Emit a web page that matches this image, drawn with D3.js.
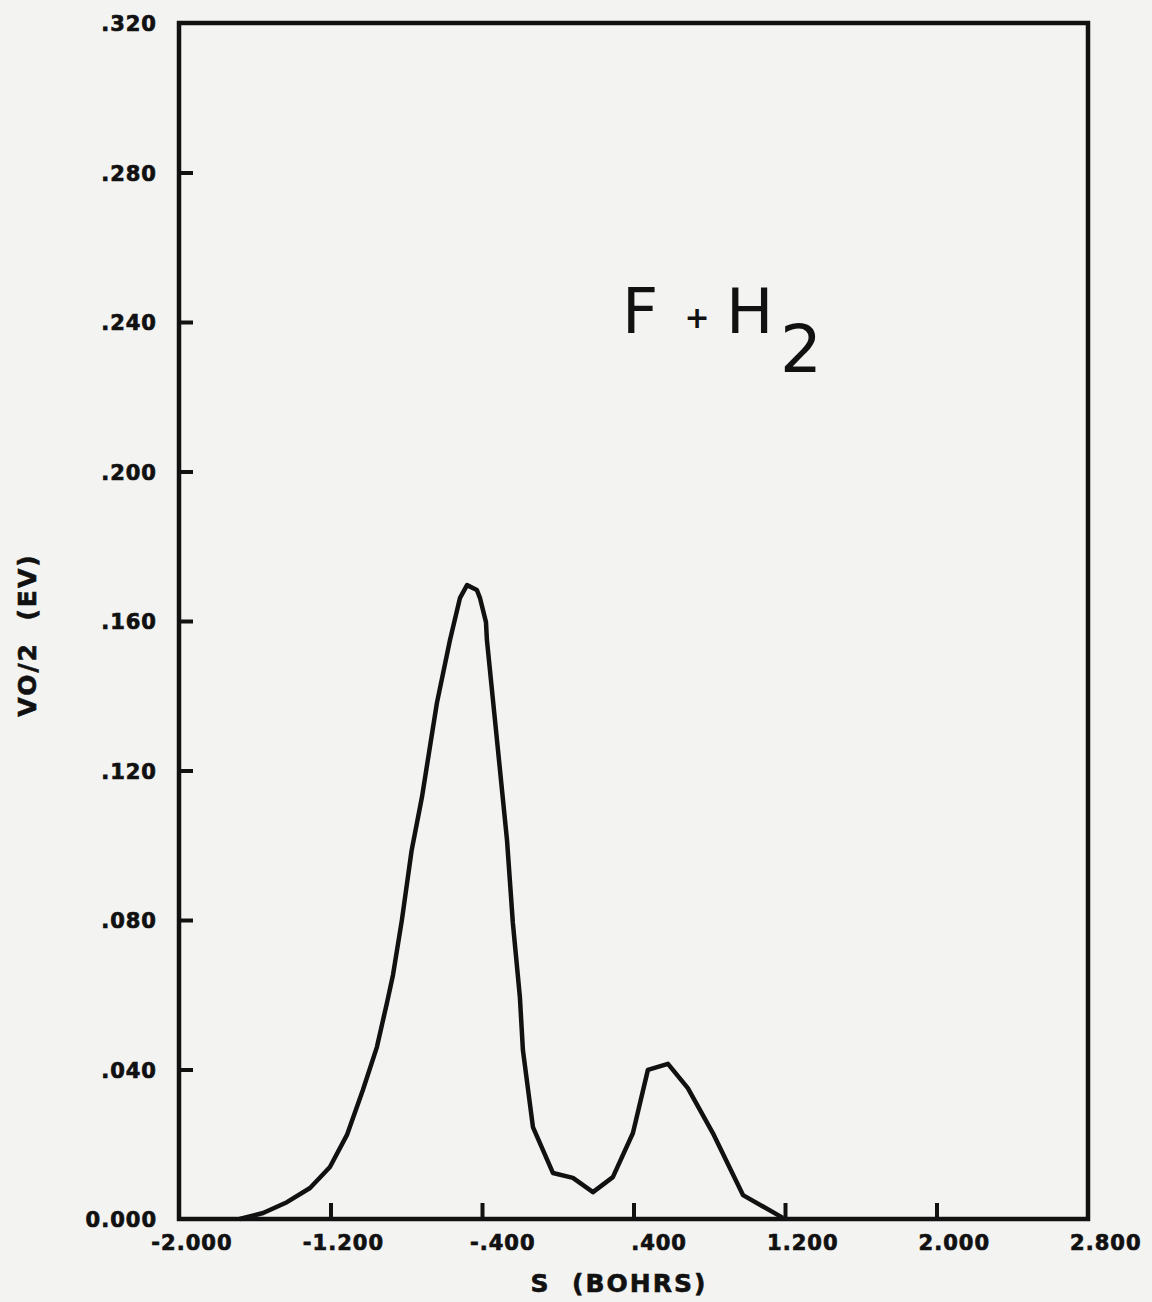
<!DOCTYPE html>
<html>
<head>
<meta charset="utf-8">
<script src="https://cdn.jsdelivr.net/npm/d3@7"></script>
<style>
  body { margin: 0; background: #f3f3f1; }
  svg { display: block; }
  .tick text { font-family: "DejaVu Sans", sans-serif; font-weight: bold; font-size: 21px; fill: #111; stroke: #111; stroke-width: 0.7px; letter-spacing: 1px; }
  .tick line { stroke: #111; stroke-width: 4px; }
  .lbl { font-family: "DejaVu Sans", sans-serif; font-weight: bold; font-size: 25px; fill: #111; stroke: #111; stroke-width: 0.6px; letter-spacing: 2px; white-space: pre; }
</style>
</head>
<body>
<script>
// curve: s (bohrs) vs V0/2 (eV)
var sVals = [-1.68, -1.556, -1.43, -1.308, -1.203, -1.113, -1.029, -0.955, -0.902, -0.870,
             -0.823, -0.772, -0.717, -0.675, -0.638, -0.569, -0.516, -0.479, -0.427, -0.411,
             -0.379, -0.374, -0.321, -0.268, -0.237, -0.200, -0.184, -0.131, -0.025, 0.080,
             0.186, 0.291, 0.397, 0.476, 0.582, 0.687, 0.819, 0.978, 1.189];
var vVals = [0.000, 0.0016, 0.0045, 0.0083, 0.0139, 0.0225, 0.0345, 0.0460, 0.0578, 0.0653,
             0.0800, 0.0985, 0.1129, 0.1263, 0.1381, 0.1549, 0.1662, 0.1696, 0.1683, 0.1662,
             0.1597, 0.1549, 0.1282, 0.1014, 0.0792, 0.0594, 0.0452, 0.0246, 0.0123, 0.0110,
             0.0072, 0.0112, 0.0230, 0.0399, 0.0415, 0.0350, 0.0230, 0.0064, 0.0003];

var xTicks = [-2.0, -1.2, -0.4, 0.4, 1.2, 2.0, 2.8];
var xTickLabels = ["-2.000", "-1.200", "-.400", ".400", "1.200", "2.000", "2.800"];
var yTicks = [0, 0.04, 0.08, 0.12, 0.16, 0.20, 0.24, 0.28, 0.32];
var yTickLabels = ["0.000", ".040", ".080", ".120", ".160", ".200", ".240", ".280", ".320"];

var W = 1152, H = 1302;
var m = {left: 179, top: 23, right: 64, bottom: 83};
var pw = W - m.left - m.right, ph = H - m.top - m.bottom;

var svg = d3.select("body").append("svg").attr("width", W).attr("height", H);
var g = svg.append("g").attr("transform", "translate(" + m.left + "," + m.top + ")");

var x = d3.scaleLinear().domain([-2.0, 2.8]).range([0, pw]);
var y = d3.scaleLinear().domain([0, 0.32]).range([ph, 0]);

var xAxis = g.append("g").attr("transform", "translate(0," + ph + ")")
  .call(d3.axisBottom(x).tickValues(xTicks).tickSize(-16).tickPadding(0)
    .tickFormat(function(d, i){ return xTickLabels[i]; }));
xAxis.select(".domain").remove();
xAxis.selectAll(".tick text").attr("text-anchor", "end").attr("x", 53).attr("y", 31).attr("dy", 0);
xAxis.selectAll(".tick line").filter(function(d){ return d == -2.0 || d == 2.8; }).remove();

var yAxis = g.append("g")
  .call(d3.axisLeft(y).tickValues(yTicks).tickSize(-14).tickPadding(0)
    .tickFormat(function(d, i){ return yTickLabels[i]; }));
yAxis.select(".domain").remove();
yAxis.selectAll(".tick text").attr("x", -22).attr("dy", "0.36em");
yAxis.selectAll(".tick line").filter(function(d){ return d == 0 || d == 0.32; }).remove();

// frame
g.append("rect").attr("x", 0).attr("y", 0).attr("width", pw).attr("height", ph)
  .attr("fill", "none").attr("stroke", "#111").attr("stroke-width", 4.5);

var pts = sVals.map(function(s, i){ return [s, vVals[i]]; });
var line = d3.line().x(function(d){ return x(d[0]); }).y(function(d){ return y(d[1]); });
g.append("path").datum(pts).attr("d", line)
  .attr("fill", "none").attr("stroke", "#111").attr("stroke-width", 4.5)
  .attr("stroke-linejoin", "round");

// axis titles
svg.append("text").attr("class", "lbl").attr("x", 619).attr("y", 1292)
  .attr("text-anchor", "middle").text("S  (BOHRS)");
svg.append("text").attr("class", "lbl").attr("transform", "translate(36,635) rotate(-90)")
  .attr("text-anchor", "middle").text("VO/2  (EV)");

// reaction label
var lab = svg.append("g").attr("fill", "#111").style("font-family", "'DejaVu Sans', sans-serif");
lab.append("text").attr("x", 622).attr("y", 333).style("font-size", "63px").text("F");
lab.append("text").attr("x", 697).attr("y", 328).attr("text-anchor", "middle")
  .style("font-size", "30px").style("font-weight", "bold").text("+");
lab.append("text").attr("x", 726).attr("y", 333).style("font-size", "63px").text("H");
lab.append("text").attr("x", 780).attr("y", 372).style("font-size", "66px").text("2");
</script>
</body>
</html>
